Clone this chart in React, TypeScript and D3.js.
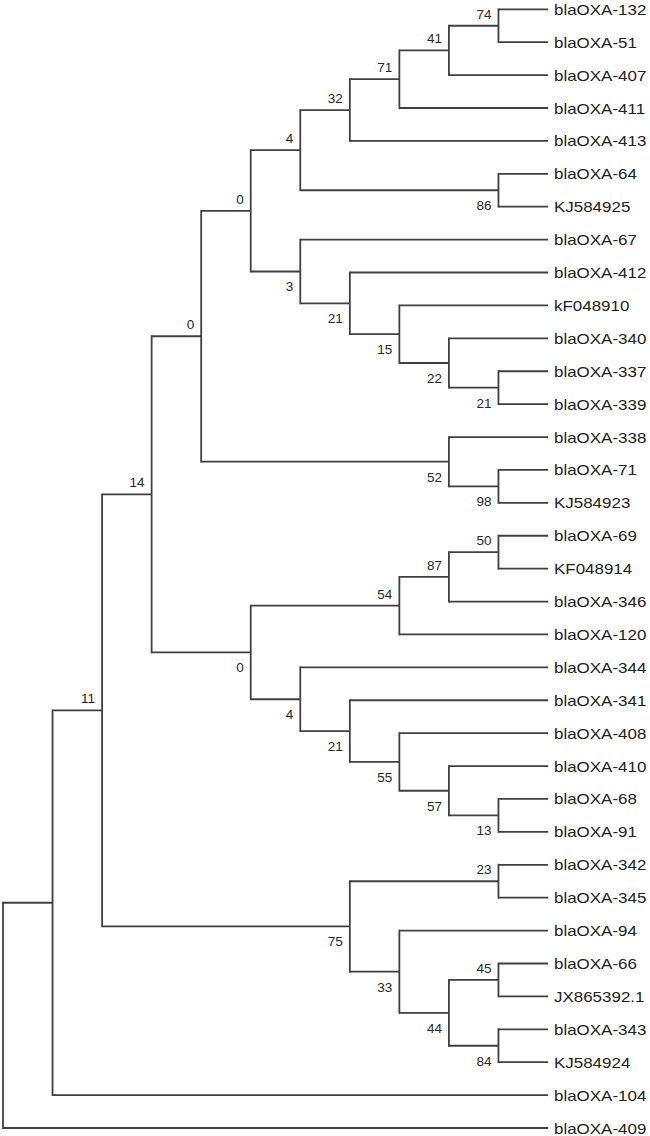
import React from "react";
import * as d3 from "d3";

// Tree topology with bootstrap support values (Newick)
const treeNewick =
  "(((((((((((blaOXA-132,blaOXA-51)74,blaOXA-407)41,blaOXA-411)71,blaOXA-413)32,(blaOXA-64,KJ584925)86)4," +
  "(blaOXA-67,(blaOXA-412,(kF048910,(blaOXA-340,(blaOXA-337,blaOXA-339)21)22)15)21)3)0," +
  "(blaOXA-338,(blaOXA-71,KJ584923)98)52)0," +
  "((((blaOXA-69,KF048914)50,blaOXA-346)87,blaOXA-120)54," +
  "(blaOXA-344,(blaOXA-341,(blaOXA-408,(blaOXA-410,(blaOXA-68,blaOXA-91)13)57)55)21)4)0)14," +
  "((blaOXA-342,blaOXA-345)23,(blaOXA-94,((blaOXA-66,JX865392.1)45,(blaOXA-343,KJ584924)84)44)33)75)11," +
  "blaOXA-104),blaOXA-409);";

const leafOrder = [
  "blaOXA-132", "blaOXA-51", "blaOXA-407", "blaOXA-411", "blaOXA-413", "blaOXA-64", "KJ584925",
  "blaOXA-67", "blaOXA-412", "kF048910", "blaOXA-340", "blaOXA-337", "blaOXA-339", "blaOXA-338",
  "blaOXA-71", "KJ584923", "blaOXA-69", "KF048914", "blaOXA-346", "blaOXA-120", "blaOXA-344",
  "blaOXA-341", "blaOXA-408", "blaOXA-410", "blaOXA-68", "blaOXA-91", "blaOXA-342", "blaOXA-345",
  "blaOXA-94", "blaOXA-66", "JX865392.1", "blaOXA-343", "KJ584924", "blaOXA-104", "blaOXA-409",
];

type TNode = { name: string; children?: TNode[] };

function parseNewick(s: string): TNode {
  let i = 0;
  function readLabel(): string {
    let out = "";
    while (i < s.length && !",();".includes(s[i])) out += s[i++];
    return out.trim();
  }
  function node(): TNode {
    if (s[i] === "(") {
      i++;
      const children: TNode[] = [node()];
      while (s[i] === ",") {
        i++;
        children.push(node());
      }
      i++; // ')'
      return { name: readLabel(), children };
    }
    return { name: readLabel() };
  }
  return node();
}

const W = 650;
const H = 1136;

export default function App() {
  const root = d3.hierarchy(parseNewick(treeNewick), (d) => d.children);
  const leaves = root.leaves();

  const xScale = d3.scaleLinear().domain([0, root.height]).range([548, 3]);
  const yScale = d3.scaleLinear().domain([0, leafOrder.length - 1]).range([9.3, 1128]);

  const pos = new Map<any, { x: number; y: number }>();
  leaves.forEach((l) => pos.set(l, { x: xScale(0), y: yScale(leafOrder.indexOf(l.data.name)) }));
  root.eachAfter((n) => {
    if (n.children) {
      const ys = n.children.map((c) => pos.get(c)!.y);
      pos.set(n, { x: xScale(n.height), y: (ys[0] + ys[ys.length - 1]) / 2 });
    }
  });

  const stroke = "#404040";
  const sw = 1.8;
  const lines: React.ReactNode[] = [];
  const labels: React.ReactNode[] = [];
  let k = 0;
  root.each((n) => {
    const p = pos.get(n)!;
    if (n.children) {
      const ys = n.children.map((c) => pos.get(c)!.y);
      lines.push(
        <line key={k++} x1={p.x} x2={p.x} y1={ys[0] - sw / 2} y2={ys[ys.length - 1] + sw / 2}
          stroke={stroke} strokeWidth={sw} />
      );
      if (n.parent && n.data.name !== "") {
        const first = n.parent.children![0] === n;
        labels.push(
          <text key={k++} x={p.x - 7} y={first ? p.y - 7 : p.y + 20} textAnchor="end"
            fontSize={13.5} fill="#2a2a2a">{n.data.name}</text>
        );
      }
    } else {
      labels.push(
        <text key={k++} transform={`translate(${p.x + 6},${p.y + 5.5}) scale(1.13,1)`}
          fontSize={15} fill="#222">{n.data.name}</text>
      );
    }
    if (n.parent) {
      const pp = pos.get(n.parent)!;
      lines.push(
        <line key={k++} x1={pp.x} x2={p.x} y1={p.y} y2={p.y} stroke={stroke} strokeWidth={sw} />
      );
    }
  });

  return (
    <svg width={W} height={H} style={{ position: "absolute", left: 0, top: 0, background: "#fff" }}
      fontFamily="'Liberation Sans', Arial, sans-serif">
      <rect width={W} height={H} fill="#fff" />
      <g>{lines}</g>
      <g>{labels}</g>
    </svg>
  );
}
